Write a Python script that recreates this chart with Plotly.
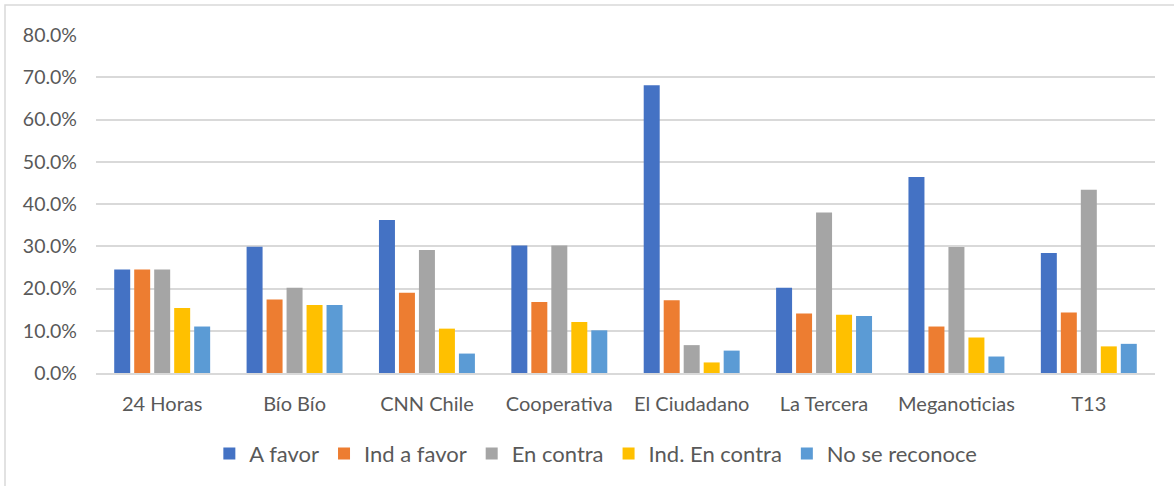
import plotly.graph_objects as go

categories = ["24 Horas", "Bío Bío", "CNN Chile", "Cooperativa", "El Ciudadano",
              "La Tercera", "Meganoticias", "T13"]
a_favor = [0.245, 0.299, 0.362, 0.302, 0.681, 0.202, 0.464, 0.284]
ind_a_favor = [0.245, 0.174, 0.190, 0.168, 0.172, 0.141, 0.110, 0.143]
en_contra = [0.245, 0.202, 0.291, 0.302, 0.066, 0.380, 0.298, 0.434]
ind_en_contra = [0.154, 0.161, 0.105, 0.121, 0.025, 0.138, 0.084, 0.063]
no_se_reconoce = [0.110, 0.161, 0.046, 0.101, 0.053, 0.135, 0.039, 0.069]
y_ticks = [0, 0.1, 0.2, 0.3, 0.4, 0.5, 0.6, 0.7, 0.8]

series = [
    ("A favor", a_favor, "#4472C4"),
    ("Ind a favor", ind_a_favor, "#ED7D31"),
    ("En contra", en_contra, "#A5A5A5"),
    ("Ind. En contra", ind_en_contra, "#FFC000"),
    ("No se reconoce", no_se_reconoce, "#5B9BD5"),
]

font_family = "Lato, Carlito, 'Liberation Sans', sans-serif"

fig = go.Figure()
for name, vals, color in series:
    fig.add_trace(go.Bar(x=categories, y=vals, name=name,
                         marker=dict(color=color, line=dict(width=0))))

fig.update_layout(
    width=1174, height=486,
    margin=dict(l=96, r=19, t=35, b=112),
    paper_bgcolor="white", plot_bgcolor="white",
    barmode="group", bargap=0.245, bargroupgap=0.2,
    font=dict(family=font_family, color="#595959", size=19),
    showlegend=True,
    legend=dict(orientation="h", x=0.472, xanchor="center", y=-0.235, yanchor="middle",
                font=dict(size=22, color="#595959"), itemwidth=30,
                traceorder="normal"),
    shapes=[dict(type="rect", xref="paper", yref="paper",
                 x0=(5 - 96) / 1059, x1=(1185 - 96) / 1059,
                 y0=(374 - 495) / 339, y1=(374 - 5) / 339,
                 line=dict(color="#D9D9D9", width=1.5), fillcolor="rgba(0,0,0,0)",
                 layer="below")],
)
fig.update_xaxes(showgrid=False, showline=True, linecolor="#D9D9D9", linewidth=1.5,
                 ticks="outside", ticklen=12, tickcolor="rgba(0,0,0,0)",
                 tickfont=dict(size=20, color="#595959"))
fig.update_yaxes(range=[0, 0.8], tickvals=y_ticks, tickformat=".1%",
                 showgrid=True, gridcolor="#D9D9D9", gridwidth=1.5,
                 zeroline=False, showline=False, ticklabelstandoff=18,
                 tickfont=dict(size=19.5, color="#595959"))

fig.write_html("out.html", config={"displayModeBar": False},
               post_script="document.body.style.margin='0';document.body.style.overflow='hidden';")
